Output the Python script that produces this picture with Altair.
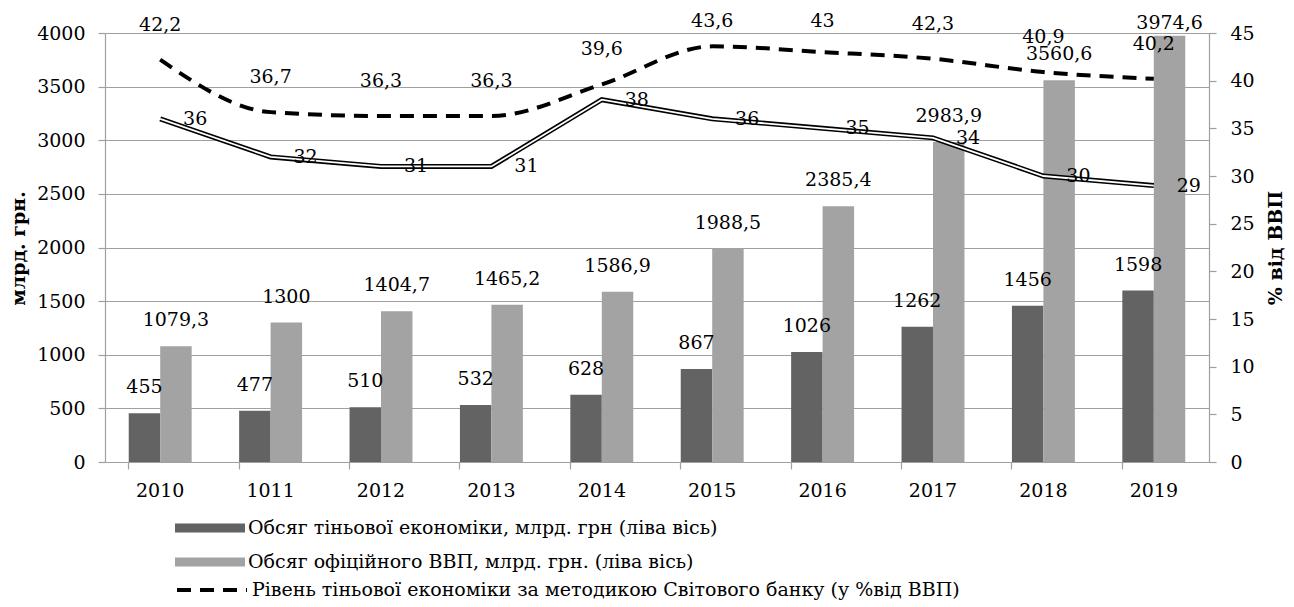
import altair as alt
import pandas as pd

years = ["2010", "1011", "2012", "2013", "2014", "2015", "2016", "2017", "2018", "2019"]
shadow = [455, 477, 510, 532, 628, 867, 1026, 1262, 1456, 1598]
gdp = [1079.3, 1300, 1404.7, 1465.2, 1586.9, 1988.5, 2385.4, 2983.9, 3560.6, 3974.6]
wb_level = [42.2, 36.7, 36.3, 36.3, 39.6, 43.6, 43, 42.3, 40.9, 40.2]
me_level = [36, 32, 31, 31, 38, 36, 35, 34, 30, 29]

s_shadow = "Обсяг тіньової економіки, млрд. грн (ліва вісь)"
s_gdp = "Обсяг офіційного ВВП, млрд. грн. (ліва вісь)"
s_wb = "Рівень тіньової економіки за методикою Світового банку (у %від ВВП)"
s_me = "Рівень тіньової економіки (у % від ВВП)"


def fmt(v):
    return f"{v:g}".replace(".", ",")


bars_df = pd.DataFrame(
    [{"year": y, "series": s_shadow, "value": v, "label": fmt(v)} for y, v in zip(years, shadow)]
    + [{"year": y, "series": s_gdp, "value": v, "label": fmt(v)} for y, v in zip(years, gdp)]
)
wb_df = pd.DataFrame({"year": years, "pct": wb_level, "label": [fmt(v) for v in wb_level], "series": s_wb})
me_df = pd.DataFrame({"year": years, "pct": me_level, "label": [fmt(v) for v in me_level], "series": s_me})

FONT = "DejaVu Serif"
GRID = "#a0a0a0"
C_SHADOW = "#636363"
C_GDP = "#a3a3a3"

x_axis = alt.Axis(
    title=None, bandPosition=0, labelAngle=0, tickSize=7, tickColor=GRID, tickWidth=1.2,
    domainColor=GRID, domainWidth=1.2, labelPadding=12, labelFont=FONT, labelFontSize=19,
    labelColor="black", grid=False,
)
x_enc = alt.X("year:N", sort=years, scale=alt.Scale(paddingInner=0.43, paddingOuter=0.215), axis=x_axis)

left_axis = alt.Axis(
    title="млрд. грн.", values=list(range(0, 4001, 500)), format="d", grid=True, gridColor=GRID,
    gridWidth=1.2, domainColor=GRID, domainWidth=1.2, tickColor=GRID, tickWidth=1.2, tickSize=7,
    labelPadding=13, labelFont=FONT, labelFontSize=19, labelColor="black", titleFont=FONT,
    titleFontSize=19, titleFontWeight="bold", titleColor="black", titleX=-77, titleY=215,
    titleBaseline="bottom",
)
right_axis = alt.Axis(
    title="% від ВВП", orient="right", values=list(range(0, 46, 5)), format="d", grid=False,
    domainColor=GRID, domainWidth=1.2, tickColor=GRID, tickWidth=1.2, tickSize=7, labelPadding=14,
    labelFont=FONT, labelFontSize=19, labelColor="black", titleFont=FONT, titleFontSize=19,
    titleFontWeight="bold", titleColor="black", titleAngle=270, titleBaseline="top", titlePadding=12,
)
left_scale = alt.Scale(domain=[0, 4000], nice=False)
right_scale = alt.Scale(domain=[0, 45], nice=False)

xoff = alt.XOffset("series:N", sort=[s_shadow, s_gdp], scale=alt.Scale(paddingInner=0, paddingOuter=0))

bars = alt.Chart(bars_df).mark_bar().encode(
    x=x_enc,
    xOffset=xoff,
    y=alt.Y("value:Q", scale=left_scale, axis=left_axis),
    fill=alt.Fill(
        "series:N",
        scale=alt.Scale(domain=[s_shadow, s_gdp], range=[C_SHADOW, C_GDP]),
        legend=alt.Legend(
            title=None, orient="none", legendX=91, legendY=481,
            symbolType="M-2.5,-0.32H2.5V0.32H-2.5Z", symbolSize=784, symbolStrokeWidth=0,
            labelFont=FONT, labelFontSize=19, labelColor="black", labelOffset=24,
            labelLimit=1000, rowPadding=10,
        ),
    ),
)
# data labels kept inside the plot area, as the spreadsheet does
bar_text = alt.Chart(bars_df).transform_calculate(
    ly="min(datum.value, 3850)"
).mark_text(
    dy=-26, baseline="middle", align="center", font=FONT, fontSize=19, color="black"
).encode(x=x_enc, xOffset=xoff, y=alt.Y("ly:Q", scale=left_scale, axis=left_axis), text="label:N")

left = alt.layer(bars, bar_text)

y_r = alt.Y("pct:Q", scale=right_scale, axis=right_axis)

wb_line = alt.Chart(wb_df).mark_line(interpolate="monotone", strokeWidth=4, color="black", strokeCap="butt").encode(
    x=x_enc,
    y=y_r,
    strokeDash=alt.StrokeDash(
        "series:N",
        scale=alt.Scale(domain=[s_wb], range=[[14, 9]]),
        legend=alt.Legend(
            title=None, orient="none", legendX=91, legendY=541,
            symbolType="M-2.5,0H2.5", symbolSize=784, symbolStrokeWidth=4, symbolStrokeColor="black",
            labelFont=FONT, labelFontSize=19, labelColor="black", labelOffset=24, labelLimit=1000,
        ),
    ),
)
wb_text = alt.Chart(wb_df).transform_calculate(
    ly="min(datum.pct, 42.6)"
).mark_text(dy=-35, baseline="middle", align="center", font=FONT, fontSize=19, color="black").encode(
    x=x_enc, y=alt.Y("ly:Q", scale=right_scale, axis=right_axis), text="label:N"
)
me_outer = alt.Chart(me_df).mark_line(strokeWidth=5, color="black").encode(x=x_enc, y=y_r)
me_inner = alt.Chart(me_df).mark_line(strokeWidth=1.8, color="white").encode(x=x_enc, y=y_r)
me_text = alt.Chart(me_df).mark_text(dx=35, baseline="middle", align="center", font=FONT, fontSize=19, color="black").encode(
    x=x_enc, y=y_r, text="label:N"
)

right = alt.layer(me_outer, me_inner, wb_line, wb_text, me_text)

chart = (
    alt.layer(left, right)
    .resolve_scale(y="independent")
    .properties(
        width=1104,
        height=429,
        autosize=alt.AutoSizeParams(type="none"),
        padding={"left": 97, "top": 25, "right": 77, "bottom": 138},
    )
    .configure_view(stroke=None)
    .configure(background="white")
)

chart.save("out.html", embed_options={"renderer": "svg", "actions": False})
